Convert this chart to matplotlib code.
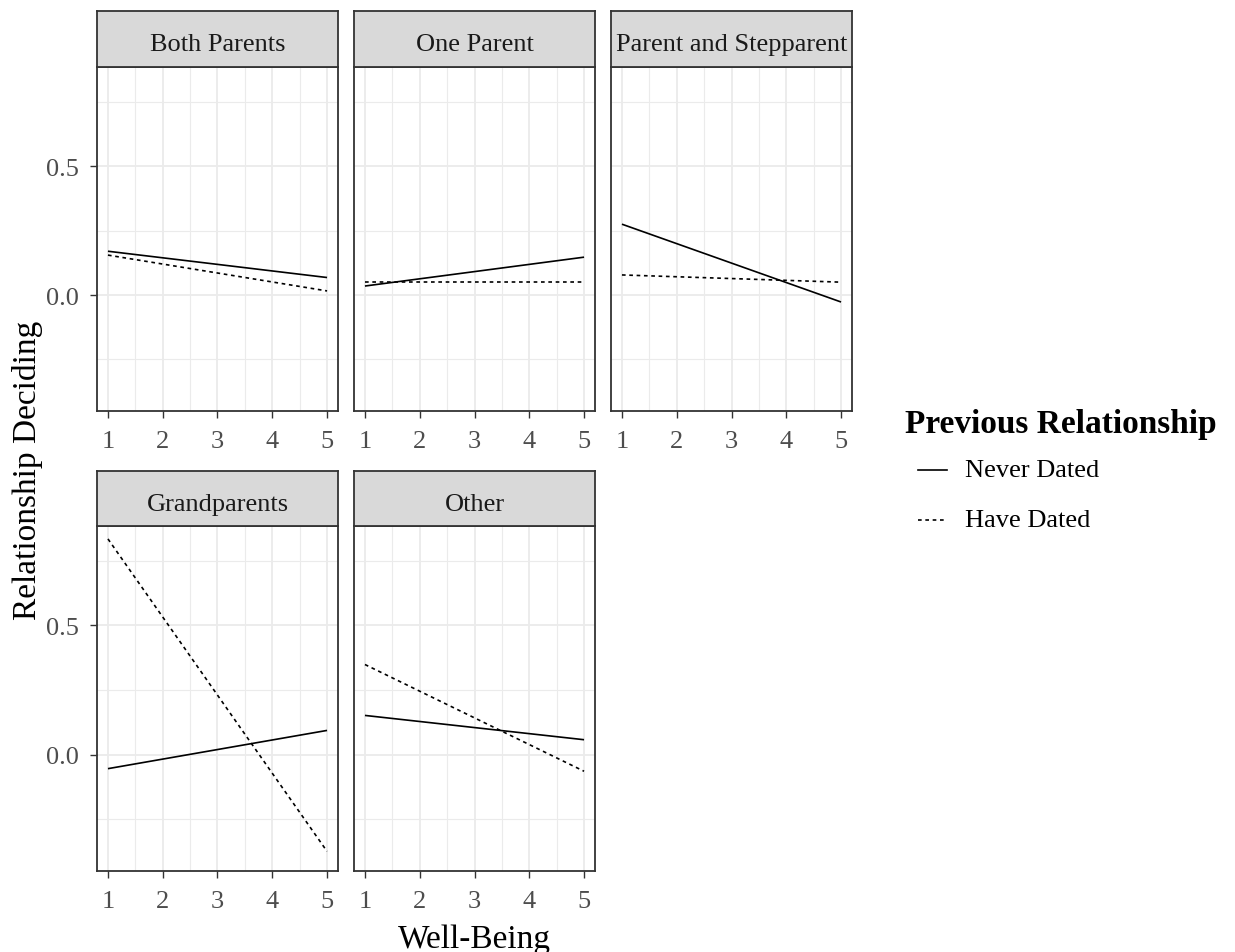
import matplotlib
matplotlib.use('Agg')
import matplotlib.pyplot as plt
import numpy as np

plt.rcParams['font.family'] = ['Liberation Serif', 'DejaVu Serif']

# data (Well-Being 1 and 5 endpoints)
panels = ['Both Parents', 'One Parent', 'Parent and Stepparent', 'Grandparents', 'Other']
well_being = [1, 5]
never_dated = {
    'Both Parents': [0.170, 0.068],
    'One Parent': [0.035, 0.147],
    'Parent and Stepparent': [0.275, -0.027],
    'Grandparents': [-0.054, 0.094],
    'Other': [0.152, 0.058],
}
have_dated = {
    'Both Parents': [0.155, 0.016],
    'One Parent': [0.050, 0.050],
    'Parent and Stepparent': [0.078, 0.050],
    'Grandparents': [0.835, -0.374],
    'Other': [0.349, -0.064],
}
series_labels = ['Never Dated', 'Have Dated']

W, H = 1235, 953
fig = plt.figure(figsize=(W / 100, H / 100), dpi=100)

def px(x0, y0, x1, y1):
    # pixel box (top-left origin) -> figure fraction rect
    return [x0 / W, 1 - y1 / H, (x1 - x0) / W, (y1 - y0) / H]

col_x = [(97, 338), (354, 595), (611, 852)]
row_y = [((12, 68), (68, 412)), ((472, 527), (527, 872))]

grey20 = '#333333'
tick_col = '#4D4D4D'
fs_small = 19
fs_title = 24
dash = (2.2, 2.2)

for i, name in enumerate(panels):
    r, c = divmod(i, 3)
    (sy0, sy1), (py0, py1) = row_y[r]
    x0, x1 = col_x[c]
    ax = fig.add_axes(px(x0, py0, x1, py1))
    ax.plot(well_being, never_dated[name], color='black', lw=1.2, solid_capstyle='butt')
    ax.plot(well_being, have_dated[name], color='black', lw=1.2, dashes=dash)
    ax.set_xlim(0.8, 5.2)
    ax.set_ylim(-0.45, 0.885)
    ax.set_xticks([1, 2, 3, 4, 5])
    ax.set_xticks(np.arange(1.5, 5, 1), minor=True)
    ax.set_yticks([0.0, 0.5])
    ax.set_yticks([-0.25, 0.25, 0.75], minor=True)
    ax.set_yticklabels(['0.0', '0.5'])
    ax.grid(True, which='major', color='#EBEBEB', lw=1.3)
    ax.grid(True, which='minor', color='#EBEBEB', lw=0.8)
    ax.set_axisbelow(True)
    ax.tick_params(which='minor', length=0)
    ax.tick_params(which='major', length=5, width=1, color=grey20,
                   labelsize=fs_small, labelcolor=tick_col)
    ax.tick_params(axis='x', which='major', pad=9)
    ax.tick_params(axis='y', which='major', pad=8)
    if c != 0:
        ax.tick_params(axis='y', which='major', left=False, labelleft=False)
    for s in ax.spines.values():
        s.set_color(grey20)
        s.set_linewidth(1.3)

    sax = fig.add_axes(px(x0, sy0, x1, sy1))
    sax.set_facecolor('#D9D9D9')
    sax.set_xticks([])
    sax.set_yticks([])
    for s in sax.spines.values():
        s.set_color(grey20)
        s.set_linewidth(1.3)
    sax.text(0.5, 0.45, name, ha='center', va='center_baseline', fontsize=fs_small,
             color='#1A1A1A', transform=sax.transAxes)

# axis titles
fig.text(474 / W, 1 - 940 / H, 'Well-Being', ha='center', va='center', fontsize=fs_title)
fig.text(28 / W, 1 - 470 / H, 'Relationship Deciding', ha='center', va='center',
         rotation=90, fontsize=fs_title)

# legend
fig.text(905 / W, 1 - 425 / H, 'Previous Relationship', ha='left', va='center',
         fontsize=fs_title, fontweight='bold')
key_y = [471, 521]
styles = [dict(), dict(dashes=dash)]
for lab, ky, st in zip(series_labels, key_y, styles):
    fig.add_artist(plt.Line2D([918 / W, 947 / W], [1 - ky / H, 1 - ky / H],
                              color='black', lw=1.2, **st))
    fig.text(965 / W, 1 - ky / H, lab, ha='left', va='center', fontsize=fs_small)

fig.savefig('out.png', dpi=100, facecolor='white')
